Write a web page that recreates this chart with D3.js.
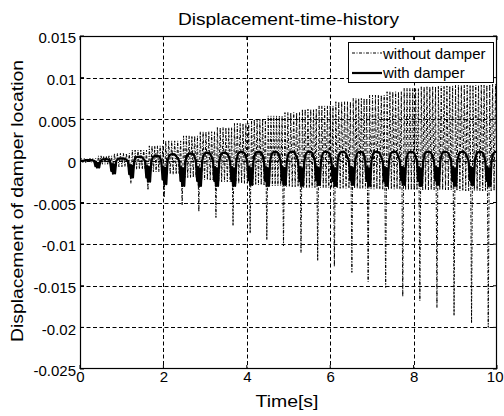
<!DOCTYPE html>
<html>
<head>
<meta charset="utf-8">
<script src="https://cdn.jsdelivr.net/npm/d3@7"></script>
<style>
	body { margin: 0; background: #fff; }
	svg { display: block; font-family: Arial, "Liberation Sans", sans-serif; }
</style>
</head>
<body>
<script>
// axis ticks
const xTicks      = [0, 2, 4, 6, 8, 10];
const yTicks      = [0.015, 0.01, 0.005, 0, -0.005, -0.01, -0.015, -0.02, -0.025];
const yTickLabels = ["0.015", "0.01", "0.005", "0", "-0.005", "-0.01", "-0.015", "-0.02", "-0.025"];
const seriesNames = ["without damper", "with damper"];

// one entry per impact cycle (time of the big downward spike)
const spikeTimes     = [0, 0.41, 0.79, 1.22, 1.63, 2.02, 2.45, 2.85, 3.26, 3.67, 4.08, 4.48, 4.88,
                        5.30, 5.70, 6.10, 6.52, 6.91, 7.33, 7.74, 8.15, 8.56, 8.97, 9.39, 9.79];
// without damper: spike depth, upper envelope, trough of the fast oscillation
const undampedSpike  = [0, -0.0008, -0.0017, -0.0027, -0.0035, -0.0044, -0.0053, -0.0061, -0.0068,
                        -0.0078, -0.0087, -0.0095, -0.0102, -0.0110, -0.0120, -0.0127, -0.0134,
                        -0.0145, -0.0152, -0.0163, -0.0168, -0.0176, -0.0186, -0.0195, -0.0200];
const undampedTop    = [0.0003, 0.0006, 0.0009, 0.0013, 0.0018, 0.0024, 0.0030, 0.0035, 0.0040,
                        0.0045, 0.0050, 0.0054, 0.0058, 0.0062, 0.0066, 0.0071, 0.0075, 0.0079,
                        0.0083, 0.0087, 0.0089, 0.0090, 0.0091, 0.0091, 0.0092];
const undampedTrough = [-0.0002, -0.0004, -0.0007, -0.0010, -0.0013, -0.0016, -0.0020, -0.0023,
                        -0.0025, -0.0027, -0.0029, -0.0030, -0.0031, -0.0032, -0.0032, -0.0033,
                        -0.0033, -0.0034, -0.0034, -0.0035, -0.0035, -0.0035, -0.0036, -0.0036, -0.0036];
// with damper: dip depth and arch top
const dampedDip      = [0, -0.0008, -0.0015, -0.0020, -0.0025, -0.0028, -0.0030, -0.0030, -0.0030,
                        -0.0030, -0.0029, -0.0030, -0.0029, -0.0030, -0.0029, -0.0030, -0.0029,
                        -0.0030, -0.0030, -0.0029, -0.0030, -0.0029, -0.0030, -0.0029, -0.0030];
const dampedTop      = [0.0001, 0.0002, 0.0003, 0.0005, 0.0006, 0.0008, 0.0009, 0.0010, 0.0010,
                        0.0011, 0.0011, 0.0011, 0.0011, 0.0011, 0.0011, 0.0011, 0.0011, 0.0011,
                        0.0011, 0.0011, 0.0011, 0.0011, 0.0011, 0.0011, 0.0011];

const tEnd = 10;
const fastPeriod = 0.068;

const width = 504, height = 416;
const margins = { top: 36, right: 7, bottom: 47, left: 80 };
const iw = width - margins.left - margins.right;
const ih = height - margins.top - margins.bottom;

const x = d3.scaleLinear().domain([0, 10]).range([0, iw]);
const y = d3.scaleLinear().domain([-0.025, 0.015]).range([ih, 0]);

// build the polylines cycle by cycle from the arrays above
function undampedPoints() {
	const pts = [];
	spikeTimes.forEach((s, i) => {
		const e = i < spikeTimes.length - 1 ? spikeTimes[i + 1] : tEnd;
		const n = Math.max(1, Math.round((e - s) / fastPeriod));
		const dt = (e - s) / n;
		pts.push([s, undampedSpike[i]]);
		for (let k = 0; k < n; k++) {
			pts.push([s + (k + 0.5) * dt, undampedTop[i]]);
			if (k < n - 1) pts.push([s + (k + 1) * dt, undampedTrough[i]]);
		}
	});
	pts.push([tEnd, undampedTrough[undampedTrough.length - 1]]);
	return pts;
}

function dampedPoints() {
	const pts = [];
	spikeTimes.forEach((s, i) => {
		const e = i < spikeTimes.length - 1 ? spikeTimes[i + 1] : tEnd + 0.2;
		const d = dampedDip[i], h = dampedTop[i];
		const dn = i < spikeTimes.length - 1 ? dampedDip[i + 1] : d;
		pts.push([s, d], [s + 0.025, 0.3 * d], [s + 0.05, d], [s + 0.08, 0]);
		pts.push([s + 0.12, 0.8 * h], [s + 0.16, 0.97 * h], [s + 0.2, h], [s + 0.24, 0.97 * h], [s + 0.28, 0.8 * h]);
		pts.push([e - 0.07, 0], [e - 0.04, 0.8 * dn], [e - 0.02, 0.25 * dn]);
	});
	return pts;
}

const svg = d3.select("body").append("svg")
	.attr("width", width)
	.attr("height", height);

svg.append("rect").attr("width", width).attr("height", height).attr("fill", "#fff");

const g = svg.append("g").attr("transform", "translate(" + margins.left + "," + margins.top + ")");

g.append("clipPath").attr("id", "plot-clip")
	.append("rect").attr("width", iw).attr("height", ih);

// grid
const grid = g.append("g").attr("class", "grid")
	.attr("stroke", "#000").attr("stroke-width", 1).attr("stroke-dasharray", "4,2.5");
grid.selectAll(".gx").data(xTicks.slice(1, -1)).enter().append("line")
	.attr("x1", d => Math.round(x(d)) + 0.5).attr("x2", d => Math.round(x(d)) + 0.5)
	.attr("y1", 0).attr("y2", ih);
grid.selectAll(".gy").data(yTicks.slice(1, -1)).enter().append("line")
	.attr("y1", d => Math.round(y(d)) + 0.5).attr("y2", d => Math.round(y(d)) + 0.5)
	.attr("x1", 0).attr("x2", iw);

// series
const line = d3.line().x(d => x(d[0])).y(d => y(d[1]));
const plot = g.append("g").attr("clip-path", "url(#plot-clip)");

plot.append("path")
	.datum(undampedPoints())
	.attr("d", line)
	.attr("fill", "none")
	.attr("stroke", "#000")
	.attr("stroke-width", 1)
	.attr("stroke-dasharray", "3,1.5,1,1.5");

plot.append("path")
	.datum(dampedPoints())
	.attr("d", line)
	.attr("fill", "none")
	.attr("stroke", "#000")
	.attr("stroke-width", 2.2)
	.attr("stroke-linejoin", "round");

// frame + inward ticks
g.append("rect")
	.attr("x", 0.5).attr("y", 0.5).attr("width", iw - 1).attr("height", ih - 1)
	.attr("fill", "none").attr("stroke", "#000").attr("stroke-width", 1.2);

const ticks = g.append("g").attr("stroke", "#000").attr("stroke-width", 1);
xTicks.forEach(t => {
	ticks.append("line").attr("x1", x(t)).attr("x2", x(t)).attr("y1", ih).attr("y2", ih - 4);
	ticks.append("line").attr("x1", x(t)).attr("x2", x(t)).attr("y1", 0).attr("y2", 4);
});
yTicks.forEach(t => {
	ticks.append("line").attr("y1", y(t)).attr("y2", y(t)).attr("x1", 0).attr("x2", 4);
	ticks.append("line").attr("y1", y(t)).attr("y2", y(t)).attr("x1", iw).attr("x2", iw - 4);
});

// axes labels
const xAxis = g.append("g")
	.attr("transform", "translate(0," + ih + ")")
	.call(d3.axisBottom(x).tickValues(xTicks).tickSize(0).tickPadding(2).tickFormat(d3.format("d")));
const yAxis = g.append("g")
	.call(d3.axisLeft(y).tickValues(yTicks).tickSize(0).tickPadding(4).tickFormat((d, i) => yTickLabels[i]));
[xAxis, yAxis].forEach(a => {
	a.select(".domain").remove();
	a.selectAll("text").attr("font-size", 15).attr("font-family", "Arial, 'Liberation Sans', sans-serif").attr("fill", "#000");
});
yAxis.selectAll("text").attr("dy", "0.45em");
// last x label sits at the right edge of the picture: keep it inside
xAxis.selectAll(".tick").filter(d => d === 10).select("text").attr("text-anchor", "end").attr("x", 6);

// title and axis titles
svg.append("text")
	.attr("x", margins.left + iw / 2).attr("y", 25)
	.attr("text-anchor", "middle").attr("font-size", 16)
	.attr("textLength", 221).attr("lengthAdjust", "spacingAndGlyphs")
	.text("Displacement-time-history");

svg.append("text")
	.attr("x", 287).attr("y", 407)
	.attr("text-anchor", "middle").attr("font-size", 16)
	.attr("textLength", 63).attr("lengthAdjust", "spacingAndGlyphs")
	.text("Time[s]");

svg.append("text")
	.attr("transform", "translate(23,201) rotate(-90)")
	.attr("text-anchor", "middle").attr("font-size", 16)
	.attr("textLength", 282).attr("lengthAdjust", "spacingAndGlyphs")
	.text("Displacement of damper location");

// legend
const legend = svg.append("g").attr("class", "legend");
legend.append("rect")
	.attr("x", 348.5).attr("y", 42.5).attr("width", 145).attr("height", 40)
	.attr("fill", "#fff").attr("stroke", "#000").attr("stroke-width", 1);
const legendStyles = [
	{ w: 1, dash: "3,1.5,1,1.5", ly: 53, ty: 59 },
	{ w: 2.2, dash: null, ly: 73, ty: 78 }
];
seriesNames.forEach((name, i) => {
	const s = legendStyles[i];
	legend.append("line")
		.attr("x1", 352).attr("x2", 382).attr("y1", s.ly).attr("y2", s.ly)
		.attr("stroke", "#000").attr("stroke-width", s.w).attr("stroke-dasharray", s.dash);
	legend.append("text")
		.attr("x", 383).attr("y", s.ty).attr("font-size", 15)
		.text(name);
});
</script>
</body>
</html>
